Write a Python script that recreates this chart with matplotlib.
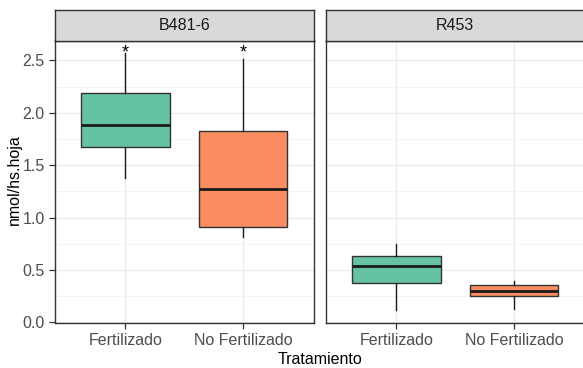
import matplotlib.pyplot as plt
from matplotlib.ticker import MultipleLocator

plt.rcParams['font.family'] = ['Liberation Sans', 'DejaVu Sans']

# data
paneles = ["B481-6", "R453"]
tratamientos = ["Fertilizado", "No Fertilizado"]
colores = ["#66C2A5", "#FC8D62"]

# whislo, q1, med, q3, whishi per treatment
b481_fert = [1.38, 1.67, 1.88, 2.19, 2.57]
b481_nofert = [0.82, 0.91, 1.27, 1.83, 2.51]
r453_fert = [0.12, 0.38, 0.54, 0.63, 0.745]
r453_nofert = [0.13, 0.25, 0.30, 0.36, 0.40]
asteriscos = {"B481-6": [2.57, 2.57], "R453": []}

datos = {"B481-6": [b481_fert, b481_nofert], "R453": [r453_fert, r453_nofert]}

W, H = 583, 368
fig = plt.figure(figsize=(W / 100, H / 100), dpi=100)

borde = "#333333"
gris_txt = "#4D4D4D"
lefts = [54.5, 325.5]
pw = 259.5
top_strip, top_panel, bottom = 9.5, 40.5, 323.0

for k, panel in enumerate(paneles):
    x0 = lefts[k]
    ax = fig.add_axes([x0 / W, 1 - bottom / H, pw / W, (bottom - top_panel) / H])
    st = fig.add_axes([x0 / W, 1 - top_panel / H, pw / W, (top_panel - top_strip) / H])

    stats = []
    for s in datos[panel]:
        stats.append(dict(whislo=s[0], q1=s[1], med=s[2], q3=s[3], whishi=s[4], fliers=[]))
    bp = ax.bxp(stats, positions=[1, 2], widths=0.75, patch_artist=True, showcaps=False,
                boxprops=dict(edgecolor=borde, linewidth=1.0),
                medianprops=dict(color="#1a1a1a", linewidth=2.0),
                whiskerprops=dict(color="#1a1a1a", linewidth=1.0), zorder=3)
    for patch, c in zip(bp['boxes'], colores):
        patch.set_facecolor(c)

    for i, yv in enumerate(asteriscos[panel]):
        ax.text(i + 1, yv, "*", ha='center', va='center', fontsize=13, color='black', zorder=4)

    ax.set_xlim(0.4, 2.6)
    ax.set_ylim(-0.005, 2.69)
    ax.yaxis.set_major_locator(MultipleLocator(0.5))
    ax.yaxis.set_minor_locator(MultipleLocator(0.25))
    ax.set_xticks([1, 2])
    ax.set_xticklabels(tratamientos)
    ax.grid(which='major', color='#EBEBEB', linewidth=0.9, zorder=0)
    ax.grid(which='minor', axis='y', color='#F2F2F2', linewidth=0.6, zorder=0)
    ax.set_axisbelow(True)
    ax.tick_params(which='minor', length=0)
    ax.tick_params(which='major', length=4, width=0.9, color=borde, labelcolor=gris_txt,
                   labelsize=11.5, pad=3)
    for sp in ax.spines.values():
        sp.set_color(borde)
        sp.set_linewidth(1.0)
    if k == 0:
        ax.yaxis.set_major_formatter(plt.FuncFormatter(lambda v, p: f"{v:.1f}"))
    else:
        ax.tick_params(axis='y', which='both', left=False, labelleft=False)
        ax.spines['right'].set_visible(False)
        st.spines['right'].set_visible(False)

    st.set_facecolor("#D9D9D9")
    st.set_xticks([])
    st.set_yticks([])
    for sp in st.spines.values():
        sp.set_color(borde)
        sp.set_linewidth(1.0)
    st.text(0.5, 0.48, panel, ha='center', va='center', fontsize=11.5, color="#1A1A1A",
            transform=st.transAxes)

fig.text(320.5 / W, 1 - 360 / H, "Tratamiento", ha='center', va='center', fontsize=11.5)
fig.text(14 / W, 1 - 180 / H, "nmol/hs.hoja", ha='center', va='center', rotation=90,
         fontsize=11.5)

fig.savefig("out.png", dpi=100)
